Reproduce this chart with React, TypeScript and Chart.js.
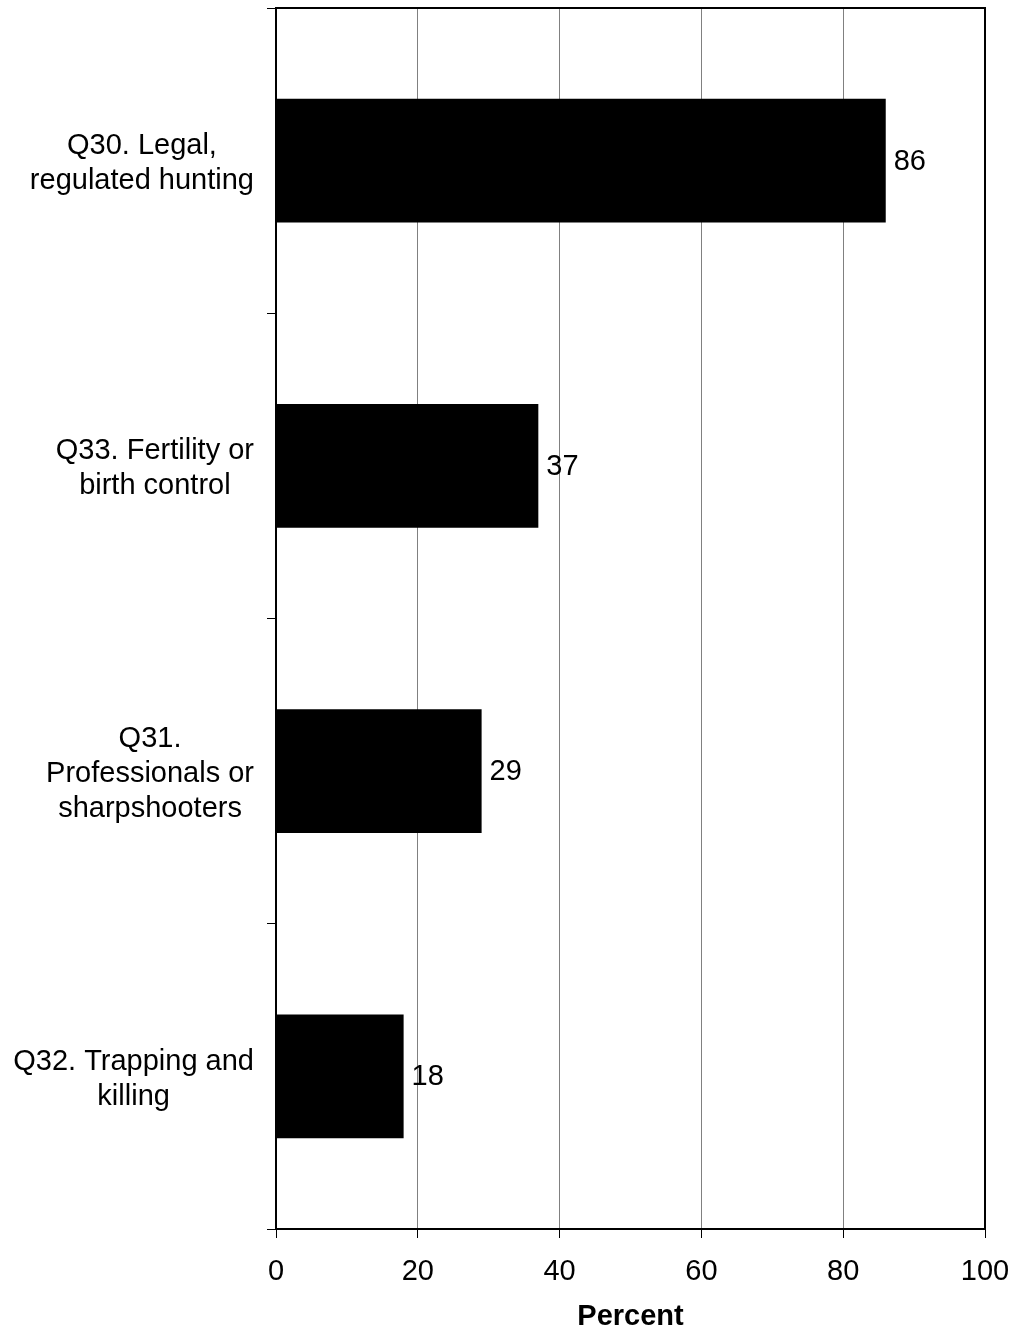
import React, { useEffect, useRef } from "react";
import { Chart, registerables } from "chart.js";

Chart.register(...registerables);

const categories: string[][] = [
  ["Q30. Legal,", "regulated hunting"],
  ["Q33. Fertility or", "birth control"],
  ["Q31.", "Professionals or", "sharpshooters"],
  ["Q32. Trapping and", "killing"],
];
const percentValues: number[] = [86, 37, 29, 18];
const xTickValues: number[] = [0, 20, 40, 60, 80, 100];
const axisTitle = "Percent";

const FONT = "'Liberation Sans', Arial, Helvetica, sans-serif";
const FONT_SIZE = 29;
const LINE_H = 35;

const customPlugin = {
  id: "customDraw",
  afterDatasetsDraw(chart: any) {
    const ctx = chart.ctx as CanvasRenderingContext2D;
    const area = chart.chartArea;
    const xScale = chart.scales.x;
    const yScale = chart.scales.y;
    ctx.save();
    // top & right border
    ctx.strokeStyle = "#000";
    ctx.lineWidth = 2;
    ctx.beginPath();
    ctx.moveTo(area.left, area.top);
    ctx.lineTo(area.right, area.top);
    ctx.lineTo(area.right, area.bottom);
    ctx.stroke();

    // value labels
    ctx.font = `${FONT_SIZE}px ${FONT}`;
    ctx.fillStyle = "#000";
    ctx.textAlign = "left";
    ctx.textBaseline = "middle";
    const meta = chart.getDatasetMeta(0);
    meta.data.forEach((bar: any, i: number) => {
      const v = percentValues[i];
      const x = xScale.getPixelForValue(v) + 8;
      ctx.fillText(String(v), x, bar.y + 1);
    });

    // category labels: each block centred on its own width, right edge fixed
    const rightEdge = area.left - 22;
    categories.forEach((lines, i) => {
      const cy = yScale.getPixelForValue(i) + 3;
      const maxW = Math.max(...lines.map((l) => ctx.measureText(l).width));
      const cx = rightEdge - maxW / 2;
      ctx.textAlign = "center";
      const startY = cy - ((lines.length - 1) * LINE_H) / 2;
      lines.forEach((l, j) => {
        ctx.fillText(l, cx, startY + j * LINE_H);
      });
    });
    ctx.restore();
  },
};

export default function App() {
  const canvasRef = useRef<HTMLCanvasElement | null>(null);

  useEffect(() => {
    if (!canvasRef.current) return;
    Chart.defaults.font.family = FONT;
    const chart = new Chart(canvasRef.current, {
      type: "bar",
      data: {
        labels: categories.map((c) => c.join(" ")),
        datasets: [
          {
            data: percentValues,
            backgroundColor: "#000",
            borderWidth: 0,
            categoryPercentage: 1,
            barPercentage: 0.405,
          },
        ],
      },
      options: {
        indexAxis: "y",
        responsive: false,
        animation: false,
        layout: { padding: { left: 267, right: 27, top: 8, bottom: 0 } },
        plugins: {
          legend: { display: false },
          tooltip: { enabled: false },
        },
        scales: {
          x: {
            type: "linear",
            min: 0,
            max: 100,
            afterBuildTicks: (scale: any) => {
              scale.ticks = xTickValues.map((v) => ({ value: v }));
            },
            afterFit: (scale: any) => {
              scale.height = 102;
              scale.paddingRight = 0;
            },
            ticks: {
              color: "#000",
              font: { size: FONT_SIZE, family: FONT },
              padding: 17,
              maxRotation: 0,
            },
            grid: {
              color: (c: any) => (c.index === 0 || c.index === 5 ? "rgba(0,0,0,0)" : "#808080"),
              tickColor: "#000",
              lineWidth: 1,
              tickLength: 9,
            },
            border: { color: "#000", width: 2 },
            title: {
              display: true,
              text: axisTitle,
              color: "#000",
              font: { size: FONT_SIZE, weight: "bold", family: FONT, lineHeight: 1 },
              padding: { top: 12, bottom: 0 },
            },
          },
          y: {
            type: "category",
            offset: true,
            ticks: { display: false },
            grid: {
              offset: true,
              drawOnChartArea: false,
              tickLength: 9,
              color: "#000",
              tickColor: "#000",
              lineWidth: 1,
            },
            border: { color: "#000", width: 2 },
          },
        },
      },
      plugins: [customPlugin],
    });
    return () => chart.destroy();
  }, []);

  return (
    <div style={{ position: "absolute", left: 0, top: 0, width: 1012, height: 1331, background: "#fff" }}>
      <canvas ref={canvasRef} width={1012} height={1331} style={{ display: "block" }} />
    </div>
  );
}
